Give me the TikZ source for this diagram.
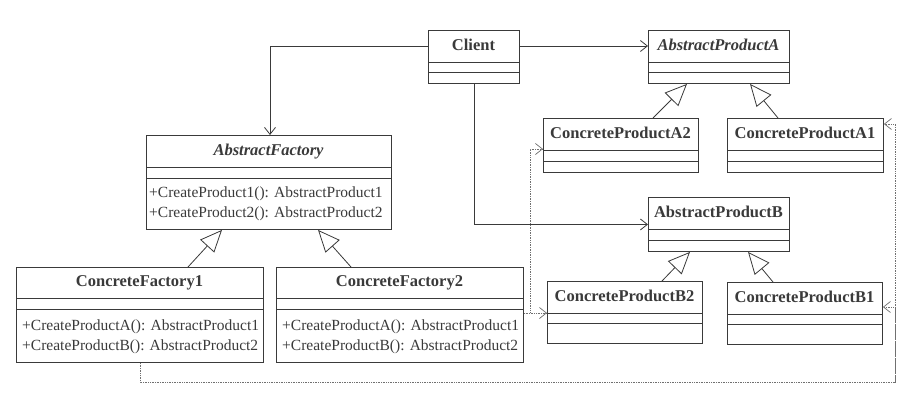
\documentclass[tikz,border=0pt]{standalone}
\usepackage{fontspec}
\setmainfont{Liberation Serif}
\usetikzlibrary{arrows.meta,calc}
\definecolor{ink}{HTML}{3A3A3A}
\definecolor{dotc}{HTML}{707070}
\tikzset{
  classbox/.style={draw=ink, line width=0.9pt, rectangle, inner sep=0pt, anchor=north west},
  sepline/.style={draw=ink, line width=0.9pt},
  classtitle/.style={font=\fontsize{16.5}{18}\selectfont\bfseries, text=ink, inner sep=0pt, text height=11pt, text depth=3pt},
  abstitle/.style={classtitle, font=\fontsize{16.5}{18}\selectfont\bfseries\itshape},
  method/.style={font=\fontsize{15.5}{18}\selectfont, text=ink, inner sep=0pt, anchor=base west},
  assoc/.style={draw=ink, line width=0.8pt, -{Straight Barb[length=7pt,width=11pt,line width=0.8pt]}},
  gen/.style={draw=ink, line width=0.8pt, -{Triangle[length=22pt,width=19pt,fill=white,line width=0.8pt]}},
  dep/.style={draw=dotc, line width=0.7pt, densely dotted, -{Straight Barb[length=7pt,width=11pt,line width=0.7pt]}},
}
\newcommand{\umlclass}[9]{%
  \node[classbox, minimum width=#4pt, minimum height=#5pt] (#1) at (#2,#3) {};
  \draw[sepline] ($(#1.north west)+(0,#6)$) -- ++(#4,0);
  \draw[sepline] ($(#1.north west)+(0,#7)$) -- ++(#4,0);
  \node[#8] (#1-t) at ($(#1.north west)+(#4/2,#6/2)$) {#9};
}
\begin{document}
\begin{tikzpicture}[x=1pt,y=-1pt]
\useasboundingbox[fill=white] (0,0) rectangle (918,408);

\umlclass{Client}{428}{30}{91}{53}{32}{42}{classtitle}{Client}
\umlclass{APA}{648}{30}{141}{53}{32}{42}{abstitle}{AbstractProductA}
\umlclass{CPA2}{543}{118}{155}{54}{32}{43}{classtitle}{ConcreteProductA2}
\umlclass{CPA1}{727}{118}{156}{54}{32}{43}{classtitle}{ConcreteProductA1}
\umlclass{APB}{648}{197}{141}{54}{32}{43}{classtitle}{AbstractProductB}
\umlclass{CPB2}{547}{281}{155}{62}{32}{42}{classtitle}{ConcreteProductB2}
\umlclass{CPB1}{727}{282}{155}{62}{32}{42}{classtitle}{ConcreteProductB1}
\umlclass{AF}{146}{135}{245}{94}{32}{43}{abstitle}{AbstractFactory}
\umlclass{CF1}{16}{267}{247}{95}{31}{42}{classtitle}{ConcreteFactory1}
\umlclass{CF2}{276}{267}{247}{95}{31}{42}{classtitle}{ConcreteFactory2}

\node[method] (AFm1) at ($(AF.north west)+(3,62)$) {+CreateProduct1(): AbstractProduct1};
\node[method] (AFm2) at ($(AF.north west)+(3,82)$) {+CreateProduct2(): AbstractProduct2};
\node[method] (CF1m1) at ($(CF1.north west)+(6,63)$) {+CreateProductA(): AbstractProduct1};
\node[method] (CF1m2) at ($(CF1.north west)+(6,83)$) {+CreateProductB(): AbstractProduct2};
\node[method] (CF2m1) at ($(CF2.north west)+(6,63)$) {+CreateProductA(): AbstractProduct1};
\node[method] (CF2m2) at ($(CF2.north west)+(6,83)$) {+CreateProductB(): AbstractProduct2};

% associations from Client
\draw[assoc] (Client-t -| Client.west) -| ($(AF.north west)+(124,0)$);
\draw[assoc] (Client-t -| Client.east) -- (Client-t -| APA.west);
\draw[assoc] (Client.south) |- (APB.west);

% generalizations
\draw[gen] ($(CPA2.north west)+(110,0)$) -- ($(APA.south west)+(39,0)$);
\draw[gen] ($(CPA1.north west)+(51,0)$) -- ($(APA.south west)+(102,0)$);
\draw[gen] ($(CPB2.north west)+(115,0)$) -- ($(APB.south west)+(42,0)$);
\draw[gen] ($(CPB1.north west)+(46,0)$) -- ($(APB.south west)+(100,0)$);
\draw[gen] ($(CF1.north west)+(172,0)$) -- ($(AF.south west)+(76,0)$);
\draw[gen] ($(CF2.north west)+(75,0)$) -- ($(AF.south west)+(172,0)$);

% dependencies
\draw[dep] ($(CF2.north east)+(0,46)$) -- ($(CPB2.north west)+(0,32)$);
\draw[dep] ($(CF2.north east)+(0,46)$) -- ++(6,0) |- ($(CPA2.north west)+(0,31)$);
\coordinate (bend) at (895,382);
\draw[dep] ($(CF1.south west)+(124,0)$) |- (bend) |- ($(CPA1.north east)+(0,6)$);
\draw[dep] (bend) |- ($(CPB1.north east)+(0,25)$);
\end{tikzpicture}
\end{document}
